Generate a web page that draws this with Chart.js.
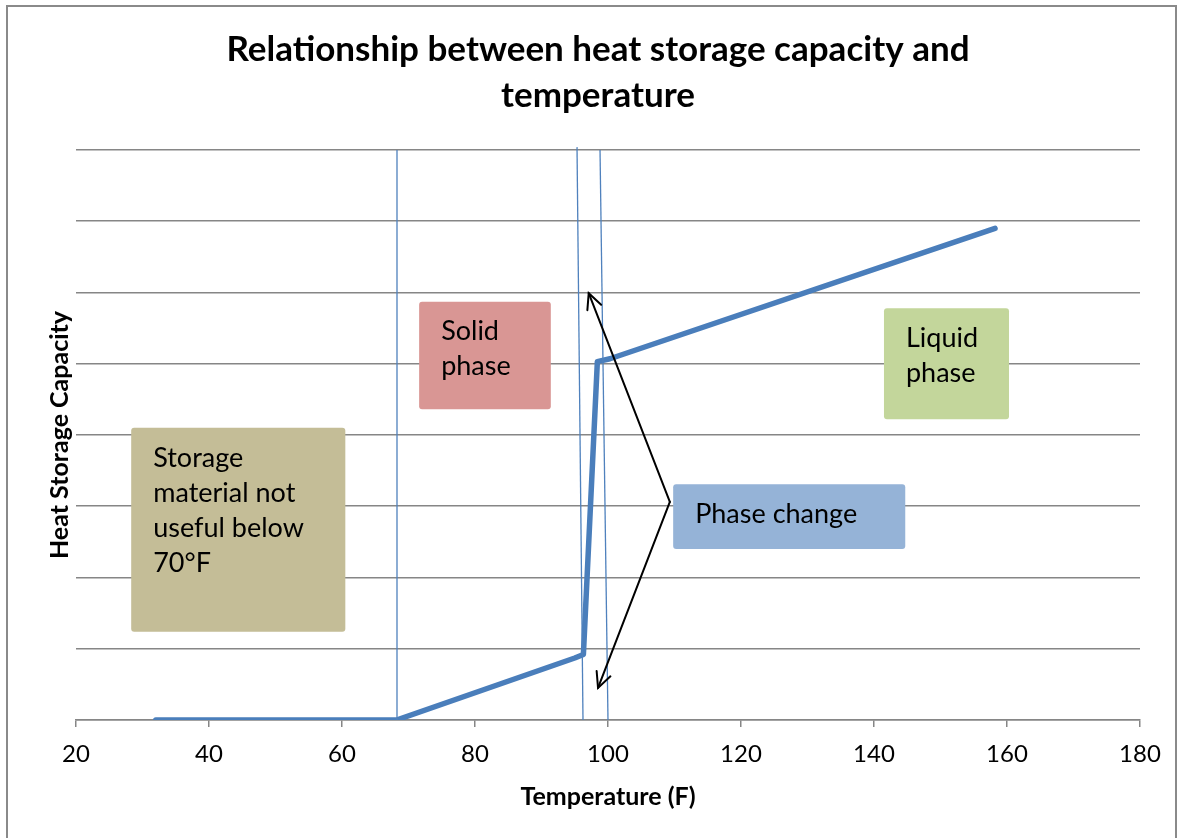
<!DOCTYPE html>
<html>
<head>
<meta charset="utf-8">
<script src="https://cdn.jsdelivr.net/npm/chart.js@4.4.1/dist/chart.umd.min.js"></script>
<style>
  body { margin: 0; background: #fff; }
  #wrap { position: relative; width: 1179px; height: 838px; }
  #frame { position: absolute; left: 6px; top: 5px; width: 1167px; height: 840px; border: 2px solid #8a8a8a; pointer-events: none; }
</style>
</head>
<body>
<div id="wrap">
  <canvas id="chart" width="1179" height="838"></canvas>
  <div id="frame"></div>
</div>
<script>
// heat storage curve
const temperature = [32, 68.2, 95.0, 96.3, 98.4, 100.3, 158.2];
const capacity = [0, 0, 0.87, 0.92, 5.03, 5.07, 6.9];

// thin marker lines (x, y pairs)
const markerA = [{ x: 68.27, y: 8 }, { x: 68.27, y: 0 }];
const markerB = [{ x: 95.34, y: 8.04 }, { x: 96.24, y: 0 }];
const markerC = [{ x: 98.8, y: 8 }, { x: 100.0, y: 0 }];

const xTicks = [20, 40, 60, 80, 100, 120, 140, 160, 180];

// text boxes: [x0, x1, yTop, yBottom] in data units
const notes = [
  { lines: ["Storage", "material not", "useful below", "70°F"], box: [28.3, 60.5, 4.10, 1.24], color: "#c4bd97" },
  { lines: ["Solid", "phase"], box: [71.6, 91.4, 5.87, 4.36], color: "#d99694" },
  { lines: ["Liquid", "phase"], box: [141.5, 160.3, 5.78, 4.22], color: "#c3d69b" },
  { lines: ["Phase change"], box: [109.8, 144.7, 3.31, 2.40], color: "#95b3d7" }
];

// arrows from the "Phase change" box
const arrowFrom = { x: 109.3, y: 3.06 };
const arrowTips = [{ x: 97.1, y: 5.99 }, { x: 98.5, y: 0.45 }];

const fontFamily = "Lato, 'Liberation Sans', sans-serif";

const notesPlugin = {
  id: "notes",
  afterDatasetsDraw(chart) {
    const ctx = chart.ctx;
    const xs = chart.scales.x, ys = chart.scales.y;
    ctx.save();

    notes.forEach(n => {
      const left = xs.getPixelForValue(n.box[0]);
      const right = xs.getPixelForValue(n.box[1]);
      const top = ys.getPixelForValue(n.box[2]);
      const bottom = ys.getPixelForValue(n.box[3]);
      ctx.fillStyle = n.color;
      ctx.beginPath();
      ctx.roundRect(left, top, right - left, bottom - top, 3);
      ctx.fill();
      ctx.fillStyle = "#000";
      ctx.font = "27px " + fontFamily;
      ctx.textBaseline = "middle";
      ctx.textAlign = "left";
      n.lines.forEach((t, i) => ctx.fillText(t, left + 22, top + 30 + i * 35));
    });

    const fx = xs.getPixelForValue(arrowFrom.x), fy = ys.getPixelForValue(arrowFrom.y);
    ctx.strokeStyle = "#000";
    ctx.lineWidth = 2;
    ctx.lineCap = "round";
    arrowTips.forEach(tip => {
      const tx = xs.getPixelForValue(tip.x), ty = ys.getPixelForValue(tip.y);
      ctx.beginPath();
      ctx.moveTo(fx, fy);
      ctx.lineTo(tx, ty);
      ctx.stroke();
      const ang = Math.atan2(ty - fy, tx - fx);
      const len = 17;
      ctx.beginPath();
      ctx.moveTo(tx - len * Math.cos(ang - 0.45), ty - len * Math.sin(ang - 0.45));
      ctx.lineTo(tx, ty);
      ctx.lineTo(tx - len * Math.cos(ang + 0.45), ty - len * Math.sin(ang + 0.45));
      ctx.stroke();
    });
    ctx.restore();
  }
};

const thin = pts => ({
  data: pts,
  showLine: true,
  borderColor: "#4f81bd",
  borderWidth: 1.3,
  pointRadius: 0,
  clip: false
});

new Chart(document.getElementById("chart"), {
  type: "scatter",
  data: {
    datasets: [
      thin(markerA),
      thin(markerB),
      thin(markerC),
      {
        data: temperature.map((t, i) => ({ x: t, y: capacity[i] })),
        showLine: true,
        borderColor: "#4a7ebb",
        borderWidth: 5.5,
        borderJoinStyle: "round",
        borderCapStyle: "round",
        pointRadius: 0
      }
    ]
  },
  options: {
    responsive: false,
    animation: false,
    layout: { padding: { top: 0, right: 0, bottom: 0, left: 17 } },
    plugins: {
      legend: { display: false },
      tooltip: { enabled: false },
      title: {
        display: true,
        text: ["Relationship between heat storage capacity and", "temperature"],
        color: "#000",
        font: { family: fontFamily, size: 35, weight: "bold", lineHeight: 1.314 },
        padding: { top: 27, bottom: 31 }
      }
    },
    scales: {
      x: {
        type: "linear",
        min: 20,
        max: 180,
        afterBuildTicks: s => { s.ticks = xTicks.map(v => ({ value: v })); },
        afterFit: s => { s.height = 118; },
        ticks: { color: "#000", font: { family: fontFamily, size: 24 }, padding: 13 },
        grid: { drawOnChartArea: false, drawTicks: true, tickLength: 7, color: "#868686", lineWidth: 1.5 },
        border: { color: "#868686", width: 1.5 },
        title: {
          display: true,
          text: "Temperature (F)",
          color: "#000",
          font: { family: fontFamily, size: 25, weight: "bold", lineHeight: 1.2 },
          padding: { top: 0, bottom: 26 }
        }
      },
      y: {
        min: 0,
        max: 8,
        ticks: { display: false, stepSize: 1 },
        grid: { color: "#868686", lineWidth: 1.5, drawTicks: false },
        border: { display: false },
        afterFit: s => { s.width = 59; },
        title: {
          display: true,
          text: "Heat Storage Capacity",
          color: "#000",
          font: { family: fontFamily, size: 25, weight: "bold", lineHeight: 1.2 },
          padding: { top: 28, bottom: 0 }
        }
      },
      // empty right-hand margin
      yRight: {
        position: "right",
        min: 0,
        max: 8,
        ticks: { display: false },
        grid: { display: false },
        border: { display: false },
        afterFit: s => { s.width = 39; }
      }
    }
  },
  plugins: [notesPlugin]
});
</script>
</body>
</html>
